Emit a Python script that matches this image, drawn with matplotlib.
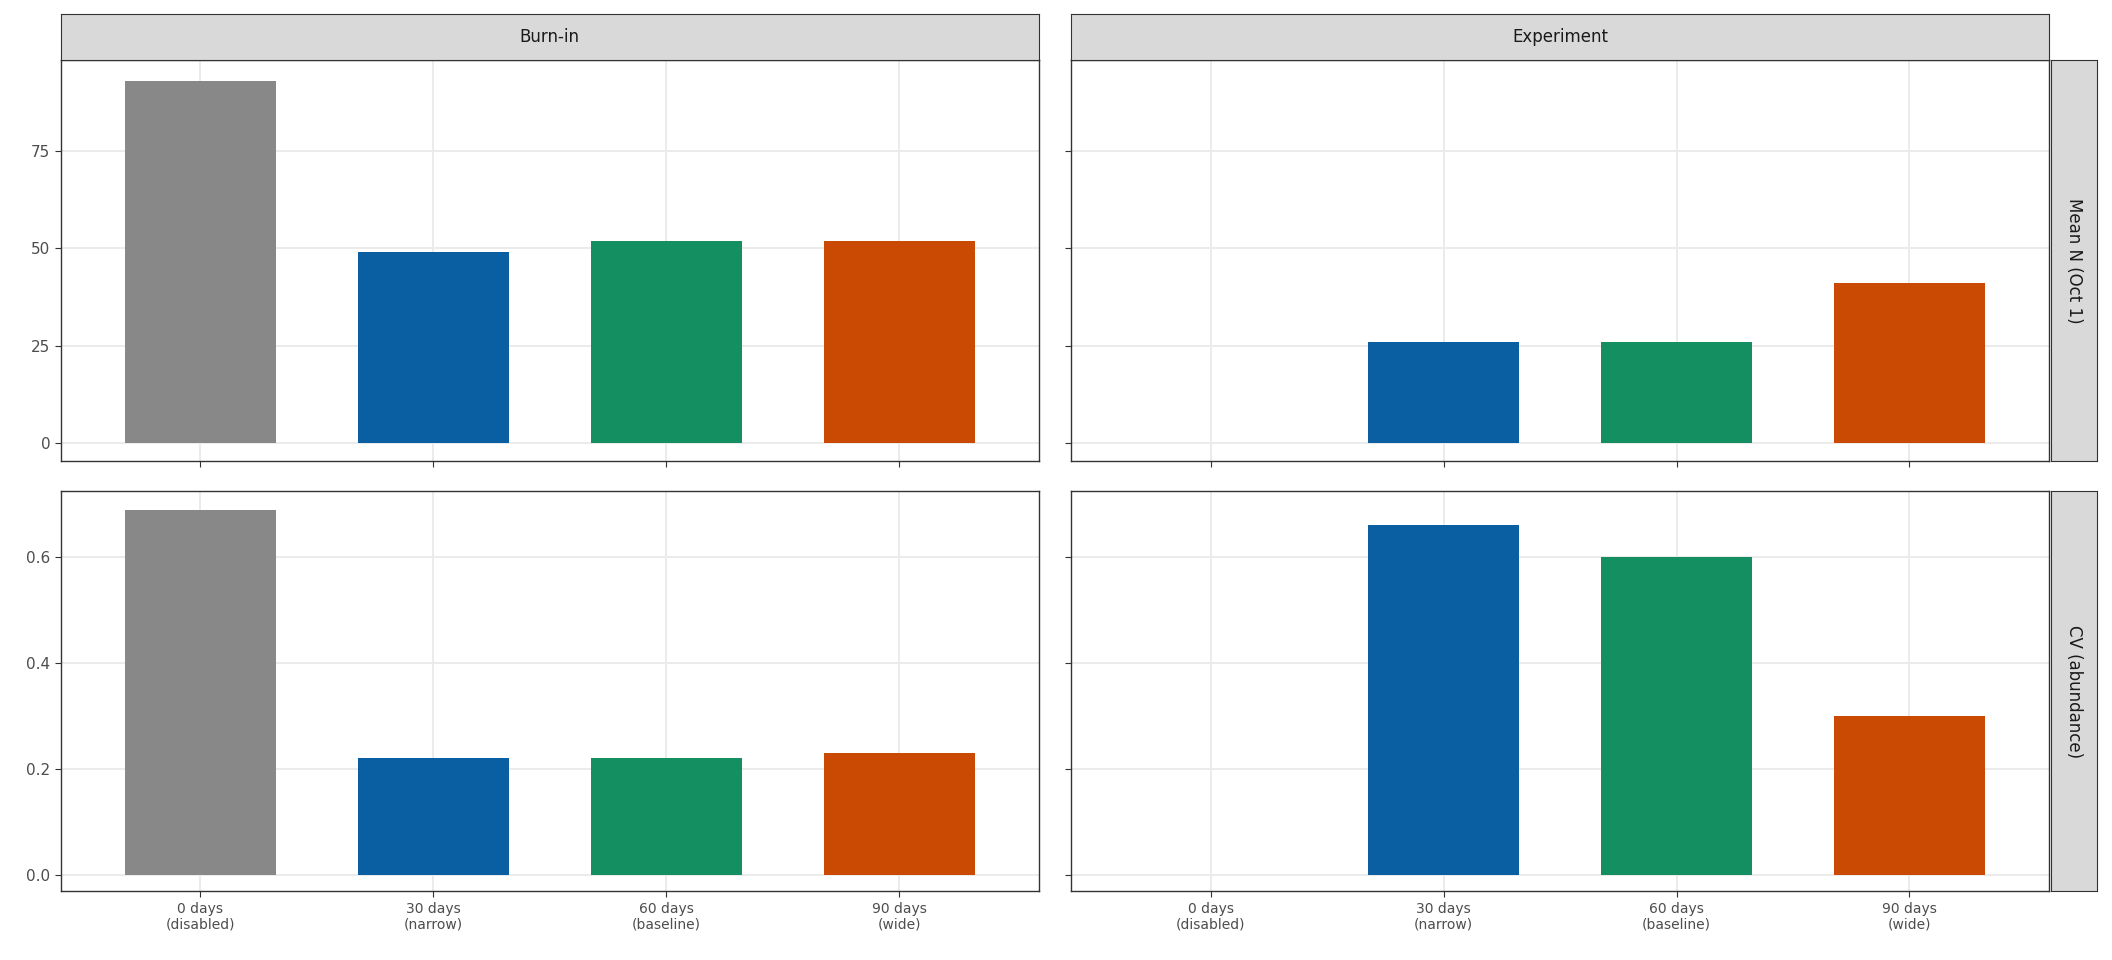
import matplotlib
matplotlib.use("Agg")
import matplotlib.pyplot as plt
import numpy as np
from matplotlib.patches import Rectangle

categories = ["0 days\n(disabled)", "30 days\n(narrow)", "60 days\n(baseline)", "90 days\n(wide)"]
colors = ["#888888", "#0A5FA3", "#138F62", "#CA4A04"]
cols = ["Burn-in", "Experiment"]
rows = ["Mean N (Oct 1)", "CV (abundance)"]
meanN_burn = [93, 49, 52, 52]
meanN_exp = [np.nan, 26, 26, 41]
cv_burn = [0.69, 0.22, 0.22, 0.23]
cv_exp = [np.nan, 0.66, 0.60, 0.30]
data = [[meanN_burn, meanN_exp], [cv_burn, cv_exp]]
ylims = [(-4.5, 98.2), (-0.031, 0.725)]
yticks = [[0, 25, 50, 75], [0.0, 0.2, 0.4, 0.6]]
yticklabels = [["0", "25", "50", "75"], ["0.0", "0.2", "0.4", "0.6"]]

fig = plt.figure(figsize=(21.12, 9.6), dpi=100)
lefts = [0.0287, 0.507]
w = 0.492 - 0.0287
bottoms = [0.520, 0.0715]
h = 0.937 - 0.520
strip_h = 0.985 - 0.937
strip_w = 0.993 - 0.971
for r in range(2):
    for c in range(2):
        ax = fig.add_axes([lefts[c], bottoms[r], w, h])
        x = np.arange(4)
        vals = np.array(data[r][c], dtype=float)
        ax.set_axisbelow(True)
        ax.grid(True, color="#EBEBEB", linewidth=1.4)
        for i in range(4):
            if not np.isnan(vals[i]):
                ax.bar(x[i], vals[i], width=0.65, color=colors[i])
        ax.set_xlim(-0.6, 3.6)
        ax.set_ylim(*ylims[r])
        ax.set_xticks(x)
        ax.set_yticks(yticks[r])
        if c == 0:
            ax.set_yticklabels(yticklabels[r], fontsize=11, color="#4D4D4D")
        else:
            ax.set_yticklabels([])
            ax.tick_params(axis="y", length=0)
        if r == 1:
            ax.set_xticklabels(categories, fontsize=10, color="#4D4D4D")
        else:
            ax.set_xticklabels([])
        ax.tick_params(color="#333333", length=4)
        for s in ax.spines.values():
            s.set_color("#333333"); s.set_linewidth(1)
        if r == 0:
            sax = fig.add_axes([lefts[c], 0.937, w, strip_h])
            sax.set_xticks([]); sax.set_yticks([])
            sax.set_facecolor("#D9D9D9")
            for s in sax.spines.values():
                s.set_color("#333333")
            sax.text(0.5, 0.5, cols[c], ha="center", va="center", fontsize=12, color="#1A1A1A")
        if c == 1:
            sax = fig.add_axes([0.971, bottoms[r], strip_w, h])
            sax.set_xticks([]); sax.set_yticks([])
            sax.set_facecolor("#D9D9D9")
            for s in sax.spines.values():
                s.set_color("#333333")
            sax.text(0.5, 0.5, rows[r], ha="center", va="center", fontsize=12, color="#1A1A1A", rotation=-90)
fig.savefig("out.png", dpi=100)
